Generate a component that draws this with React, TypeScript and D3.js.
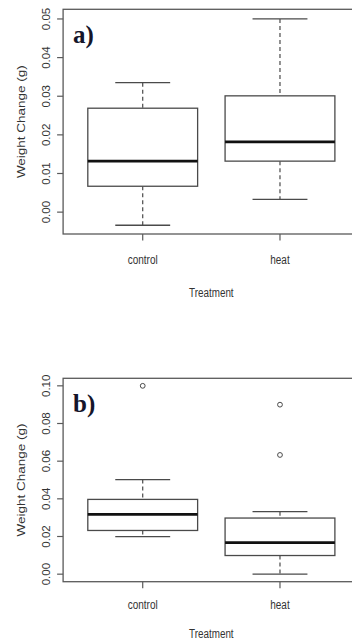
import React from "react";
import * as d3 from "d3";

const categories = ["control", "heat"];

// Panel a) box statistics
const aLow = [-0.0034, 0.0033];
const aQ1 = [0.0067, 0.0132];
const aMed = [0.0132, 0.0182];
const aQ3 = [0.0269, 0.0301];
const aHigh = [0.0335, 0.05];
const aOut: number[][] = [[], []];
const aTicks = [0, 0.01, 0.02, 0.03, 0.04, 0.05];
const aTickLabels = ["0.00", "0.01", "0.02", "0.03", "0.04", "0.05"];

// Panel b) box statistics
const bLow = [0.0199, 0.0];
const bQ1 = [0.0232, 0.0099];
const bMed = [0.0318, 0.0167];
const bQ3 = [0.0397, 0.0298];
const bHigh = [0.0502, 0.0332];
const bOut: number[][] = [[0.1], [0.09, 0.0633]];
const bTicks = [0, 0.02, 0.04, 0.06, 0.08, 0.1];
const bTickLabels = ["0.00", "0.02", "0.04", "0.06", "0.08", "0.10"];

const yTitle = "Weight Change (g)";
const xTitle = "Treatment";

type PanelProps = {
  letter: string;
  top: number;
  bottom: number;
  domain: [number, number];
  low: number[];
  q1: number[];
  med: number[];
  q3: number[];
  high: number[];
  out: number[][];
  ticks: number[];
  tickLabels: string[];
  xLabelY: number;
  xTitleY: number;
};

const FRAME = "#5a5a5a";
const BOXC = "#4a4a4a";
const TXT = "#333";

function Panel(p: PanelProps) {
  const x = d3.scaleLinear().domain([0.42, 2.58]).range([63.1, 359.6]);
  const y = d3.scaleLinear().domain(p.domain).range([p.bottom, p.top]);
  const left = x(0.42);
  const right = x(2.58);
  const midY = (p.top + p.bottom) / 2;
  return (
    <g>
      <rect x={left} y={p.top} width={right - left} height={p.bottom - p.top} fill="none" stroke={FRAME} strokeWidth={1.3} />
      {p.ticks.map((t, i) => (
        <g key={"yt" + i}>
          <line x1={left - 6} x2={left} y1={y(t)} y2={y(t)} stroke={FRAME} strokeWidth={1.2} />
          <text
            transform={`translate(49.5,${y(t)}) rotate(-90) scale(1,0.9)`}
            textAnchor="middle"
            fontFamily="Liberation Sans, Arial, sans-serif"
            fontSize={11.5}
            fill={TXT}
          >
            {p.tickLabels[i]}
          </text>
        </g>
      ))}
      <text
        transform={`translate(25,${midY}) rotate(-90) scale(1,0.85)`}
        textAnchor="middle"
        fontFamily="Liberation Sans, Arial, sans-serif"
        fontSize={13.5}
        fill={TXT}
      >
        {yTitle}
      </text>
      {categories.map((c, i) => (
        <g key={"xt" + i}>
          <line x1={x(i + 1)} x2={x(i + 1)} y1={p.bottom} y2={p.bottom + 6.5} stroke={FRAME} strokeWidth={1.2} />
          <text
            transform={`translate(${x(i + 1)},${p.xLabelY}) scale(0.74,1)`}
            textAnchor="middle"
            fontFamily="Liberation Sans, Arial, sans-serif"
            fontSize={13.5}
            fill={TXT}
          >
            {c}
          </text>
        </g>
      ))}
      <text
        transform={`translate(${x(1.5)},${p.xTitleY}) scale(0.73,1)`}
        textAnchor="middle"
        fontFamily="Liberation Sans, Arial, sans-serif"
        fontSize={13.5}
        fill={TXT}
      >
        {xTitle}
      </text>
      {categories.map((c, i) => {
        const cx = x(i + 1);
        const bw = x(1.4) - x(1);
        const cw = x(1.2) - x(1);
        return (
          <g key={"box" + i}>
            <line x1={cx} x2={cx} y1={y(p.high[i])} y2={y(p.q3[i])} stroke={BOXC} strokeWidth={1.2} strokeDasharray="4,3" />
            <line x1={cx} x2={cx} y1={y(p.q1[i])} y2={y(p.low[i])} stroke={BOXC} strokeWidth={1.2} strokeDasharray="4,3" />
            <line x1={cx - cw} x2={cx + cw} y1={y(p.high[i])} y2={y(p.high[i])} stroke={BOXC} strokeWidth={1.3} />
            <line x1={cx - cw} x2={cx + cw} y1={y(p.low[i])} y2={y(p.low[i])} stroke={BOXC} strokeWidth={1.3} />
            <rect x={cx - bw} y={y(p.q3[i])} width={2 * bw} height={y(p.q1[i]) - y(p.q3[i])} fill="white" stroke={BOXC} strokeWidth={1.3} />
            <line x1={cx - bw} x2={cx + bw} y1={y(p.med[i])} y2={y(p.med[i])} stroke="#111" strokeWidth={2.8} />
            {p.out[i].map((o, j) => (
              <circle key={j} cx={cx} cy={y(o)} r={2.4} fill="none" stroke={BOXC} strokeWidth={1} />
            ))}
          </g>
        );
      })}
      <text
        x={73}
        y={p.top + 34}
        fontFamily="Liberation Serif, Times New Roman, serif"
        fontWeight="bold"
        fontSize={25}
        fill="#15152a"
      >
        {p.letter}
      </text>
    </g>
  );
}

export default function App() {
  return (
    <svg
      width={352}
      height={640}
      style={{ position: "absolute", left: 0, top: 0, background: "white" }}
    >
      <rect x={0} y={0} width={352} height={640} fill="white" />
      <Panel
        letter="a)"
        top={9.3}
        bottom={234}
        domain={[-0.00566, 0.0525]}
        low={aLow}
        q1={aQ1}
        med={aMed}
        q3={aQ3}
        high={aHigh}
        out={aOut}
        ticks={aTicks}
        tickLabels={aTickLabels}
        xLabelY={264}
        xTitleY={297}
      />
      <Panel
        letter="b)"
        top={378.3}
        bottom={581.7}
        domain={[-0.004, 0.104]}
        low={bLow}
        q1={bQ1}
        med={bMed}
        q3={bQ3}
        high={bHigh}
        out={bOut}
        ticks={bTicks}
        tickLabels={bTickLabels}
        xLabelY={609}
        xTitleY={638}
      />
    </svg>
  );
}
